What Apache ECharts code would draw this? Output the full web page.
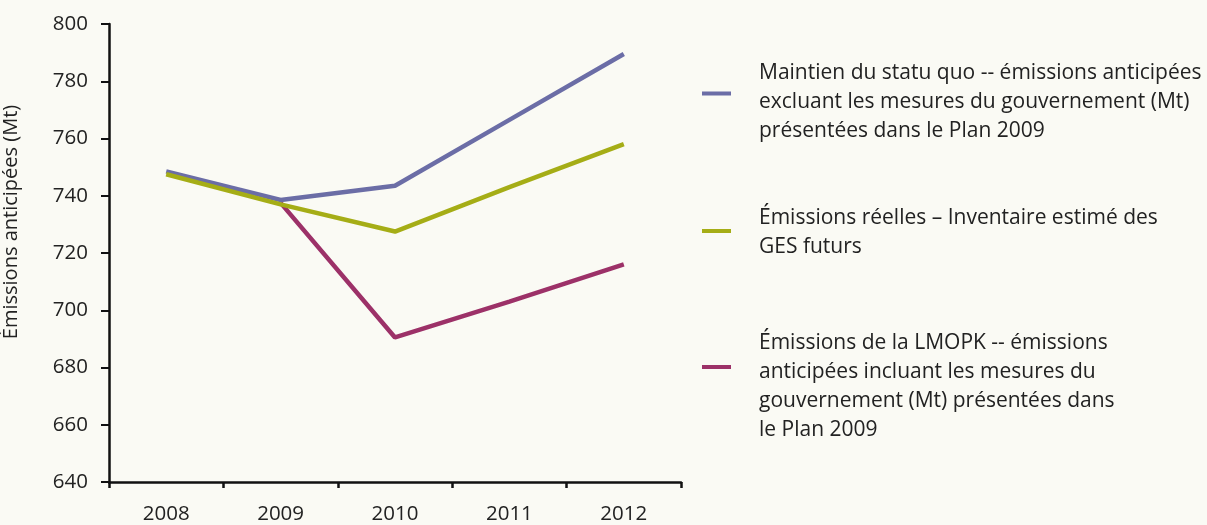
<!DOCTYPE html>
<html>
<head>
<meta charset="utf-8">
<script src="https://cdn.jsdelivr.net/npm/echarts@6/dist/echarts.min.js"></script>
<style>
  html, body { margin: 0; padding: 0; background: #fafaf4; }
  #chart { width: 1207px; height: 525px; }
</style>
</head>
<body>
<div id="chart"></div>
<script>
// years on the x axis
var years = ['2008', '2009', '2010', '2011', '2012'];
// Maintien du statu quo
var statuQuo = [748.5, 738.5, 743.5, 766.5, 789.5];
// Émissions réelles
var reelles = [747.5, 737, 727.5, 743, 758];
// LMOPK
var lmopk = [null, 737.5, 690.5, 703, 716];

var names = [
  'Maintien du statu quo -- émissions anticipées\nexcluant les mesures du gouvernement (Mt)\nprésentées dans le Plan 2009',
  'Émissions réelles – Inventaire estimé des\nGES futurs',
  'Émissions de la LMOPK -- émissions\nanticipées incluant les mesures du\ngouvernement (Mt) présentées dans\nle Plan 2009'
];
var colors = ['#6b6da6', '#a5ad16', '#9c3168'];
var font = 'Open Sans';
var ink = '#222';

// blank spacer line on top of a legend label, so the swatch sits above the text centre
function legendAt(idx, top, spacer) {
  return {
    orient: 'vertical',
    left: 697,
    top: top,
    icon: 'rect',
    itemWidth: 29,
    itemHeight: 4,
    data: [names[idx]],
    formatter: function (name) {
      return spacer ? '{g| }\n' + name : name;
    },
    textStyle: {
      fontFamily: font, fontSize: 21, color: ink, lineHeight: 29,
      padding: [0, 0, 0, 23],
      rich: { g: { fontSize: 1, lineHeight: spacer || 1 } }
    }
  };
}

var chart = echarts.init(document.getElementById('chart'));
chart.setOption({
  backgroundColor: '#fafaf4',
  animation: false,
  color: colors,
  textStyle: { fontFamily: font },
  grid: { left: 107, right: 526, top: 24, bottom: 42 },
  legend: [
    legendAt(0, 36, 18),
    legendAt(1, 195, 4),
    legendAt(2, 284, 40)
  ],
  xAxis: {
    type: 'category',
    data: years,
    boundaryGap: true,
    axisLine: { lineStyle: { color: '#111', width: 2.5 } },
    axisTick: { show: true, length: 6, lineStyle: { color: '#111', width: 2.5 } },
    axisLabel: { fontSize: 20.5, color: ink, margin: 22 }
  },
  yAxis: {
    type: 'value',
    min: 640,
    max: 800,
    interval: 20,
    name: 'Émissions anticipées (Mt)',
    nameLocation: 'middle',
    nameGap: 88,
    nameTextStyle: { fontSize: 20, color: ink, padding: [0, 0, 0, 62] },
    splitLine: { show: false },
    axisLine: { show: true, lineStyle: { color: '#111', width: 2.5 } },
    axisTick: { show: true, length: 8, lineStyle: { color: '#111', width: 2 } },
    axisLabel: { fontSize: 20.5, color: ink, margin: 21 }
  },
  series: [
    { name: names[0], type: 'line', data: statuQuo, symbol: 'none', lineStyle: { width: 4.5 }, z: 3 },
    { name: names[1], type: 'line', data: reelles, symbol: 'none', lineStyle: { width: 4.5 }, z: 4 },
    { name: names[2], type: 'line', data: lmopk, symbol: 'none', lineStyle: { width: 4.5 }, z: 2 }
  ]
});
</script>
</body>
</html>
